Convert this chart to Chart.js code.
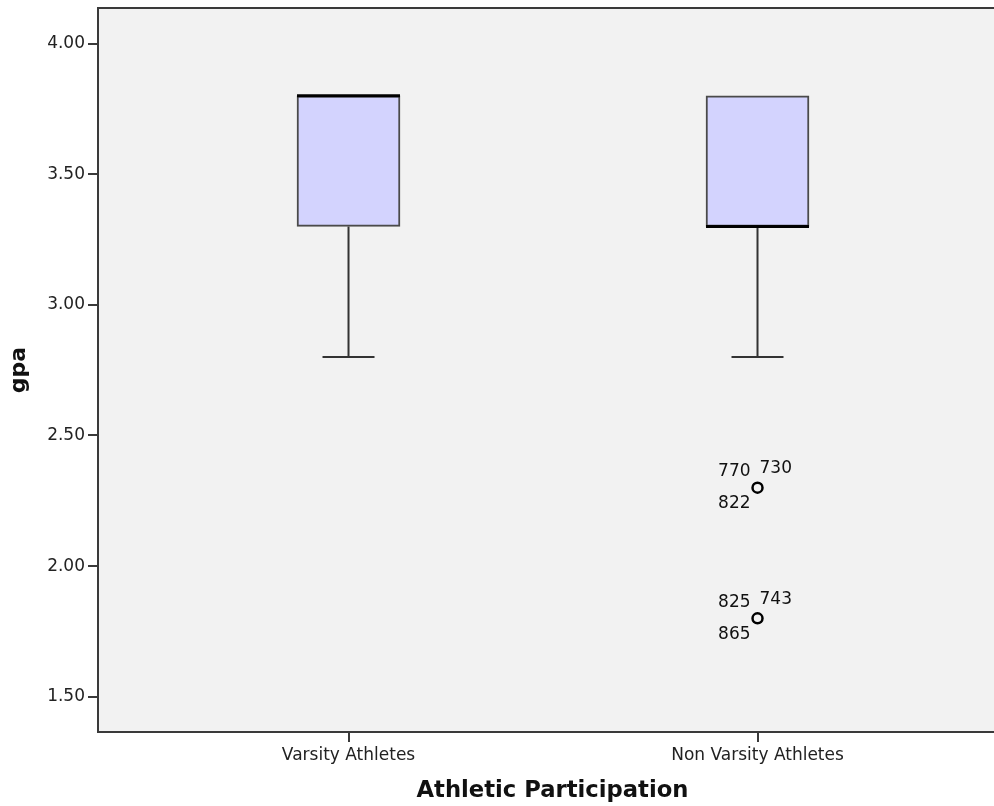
<!DOCTYPE html>
<html>
<head>
<meta charset="utf-8">
<script src="https://cdn.jsdelivr.net/npm/chart.js@4"></script>
<style>
	html, body { margin: 0; background: #fff; overflow: hidden; }
</style>
</head>
<body>
<canvas id="boxChart" width="1010" height="806"></canvas>
<script>
// data
const categories = ['Varsity Athletes', 'Non Varsity Athletes'];
const q1Values = [3.3, 3.3];
const medianValues = [3.8, 3.3];
const q3Values = [3.8, 3.8];
const whiskerLow = [2.8, 2.8];
const whiskerHigh = [3.8, 3.8];
const outlierCategory = [1, 1];
const outlierGpa = [2.3, 1.8];
const outlierIds = [['770', '730', '822'], ['825', '743', '865']];
const yTicks = [1.5, 2.0, 2.5, 3.0, 3.5, 4.0];

const axisColor = '#3a3a3a';
const labelFont = { family: 'DejaVu Sans', size: 17 };

const boxExtras = {
	id: 'boxExtras',
	beforeDraw(chart) {
		const { ctx, chartArea: a } = chart;
		ctx.save();
		ctx.fillStyle = '#f2f2f2';
		ctx.fillRect(a.left, a.top, a.right - a.left, a.bottom - a.top);
		ctx.restore();
	},
	beforeDatasetsDraw(chart) {
		// whiskers sit under the boxes
		const { ctx, scales: { x, y } } = chart;
		ctx.save();
		ctx.strokeStyle = '#333';
		ctx.lineWidth = 2;
		categories.forEach((c, i) => {
			const cx = x.getPixelForValue(i);
			const capHalf = 26;
			[[q1Values[i], whiskerLow[i]], [q3Values[i], whiskerHigh[i]]].forEach(([from, to]) => {
				if (from === to) return;
				ctx.beginPath();
				ctx.moveTo(cx, y.getPixelForValue(from));
				ctx.lineTo(cx, y.getPixelForValue(to));
				ctx.moveTo(cx - capHalf, y.getPixelForValue(to));
				ctx.lineTo(cx + capHalf, y.getPixelForValue(to));
				ctx.stroke();
			});
		});
		ctx.restore();
	},
	afterDatasetsDraw(chart) {
		const { ctx, scales: { x, y } } = chart;
		const bars = chart.getDatasetMeta(0).data;
		ctx.save();
		// medians
		ctx.strokeStyle = '#000';
		ctx.lineWidth = 3;
		categories.forEach((c, i) => {
			const half = bars[i].width / 2;
			const cx = x.getPixelForValue(i);
			const my = y.getPixelForValue(medianValues[i]);
			ctx.beginPath();
			ctx.moveTo(cx - half, my);
			ctx.lineTo(cx + half, my);
			ctx.stroke();
		});
		// outlier case numbers
		ctx.fillStyle = '#111';
		ctx.font = '17px "DejaVu Sans"';
		ctx.textBaseline = 'middle';
		outlierGpa.forEach((g, k) => {
			const px = x.getPixelForValue(outlierCategory[k]);
			const py = y.getPixelForValue(g);
			const ids = outlierIds[k];
			ctx.textAlign = 'right';
			ctx.fillText(ids[0], px - 7, py - 16);
			ctx.fillText(ids[2], px - 7, py + 16);
			ctx.textAlign = 'left';
			ctx.fillText(ids[1], px + 2, py - 19);
		});
		ctx.restore();
	},
	afterDraw(chart) {
		const { ctx, chartArea: a } = chart;
		ctx.save();
		ctx.strokeStyle = axisColor;
		ctx.lineWidth = 2;
		ctx.beginPath();
		ctx.moveTo(a.left, a.top);
		ctx.lineTo(a.right, a.top);
		ctx.lineTo(a.right, a.bottom);
		ctx.stroke();
		ctx.restore();
	}
};

const ctx = document.getElementById('boxChart').getContext('2d');
new Chart(ctx, {
	type: 'bar',
	data: {
		datasets: [{
			label: 'gpa',
			data: categories.map((c, i) => ({ x: i, y: [q1Values[i], q3Values[i]] })),
			backgroundColor: '#d3d3fe',
			borderColor: '#4a4a4a',
			borderWidth: 2,
			borderSkipped: false,
			barThickness: 103
		}, {
			type: 'scatter',
			label: 'outliers',
			data: outlierGpa.map((g, k) => ({ x: outlierCategory[k], y: g })),
			pointRadius: 5,
			pointBorderWidth: 2.5,
			borderColor: '#000',
			backgroundColor: 'rgba(0,0,0,0)'
		}]
	},
	options: {
		responsive: false,
		animation: false,
		layout: { autoPadding: false, padding: { top: 8, right: 3, left: 0, bottom: 0 } },
		plugins: {
			legend: { display: false },
			tooltip: { enabled: false }
		},
		scales: {
			x: {
				type: 'linear',
				offset: false,
				min: -0.6125,
				max: 1.61,
				afterBuildTicks: (s) => { s.ticks = categories.map((c, i) => ({ value: i })); },
				afterFit: (s) => { s.height = 74; s.paddingLeft = 0; s.paddingRight = 0; },
				ticks: {
					callback: (v) => categories[v],
					font: labelFont,
					color: '#222',
					padding: 3,
					maxRotation: 0
				},
				grid: { offset: false, drawOnChartArea: false, tickLength: 10, color: axisColor, lineWidth: 2 },
				border: { color: axisColor, width: 2 },
				title: {
					display: true,
					text: 'Athletic Participation',
					font: { family: 'DejaVu Sans', size: 22.7, weight: 'bold' },
					color: '#111',
					padding: { top: 0, bottom: 1 }
				}
			},
			y: {
				type: 'linear',
				min: 1.365,
				max: 4.1359,
				afterBuildTicks: (s) => { s.ticks = yTicks.map((v) => ({ value: v })); },
				afterFit: (s) => { s.width = 98; s.paddingTop = 0; s.paddingBottom = 0; },
				ticks: {
					callback: (v) => v.toFixed(2),
					font: labelFont,
					color: '#222',
					padding: 3
				},
				grid: { drawOnChartArea: false, tickLength: 10, color: axisColor, lineWidth: 2 },
				border: { color: axisColor, width: 2 },
				title: {
					display: true,
					text: 'gpa',
					font: { family: 'DejaVu Sans', size: 22, weight: 'bold' },
					color: '#111',
					padding: { top: 6, bottom: 0 }
				}
			}
		}
	},
	plugins: [boxExtras]
});
</script>
</body>
</html>
